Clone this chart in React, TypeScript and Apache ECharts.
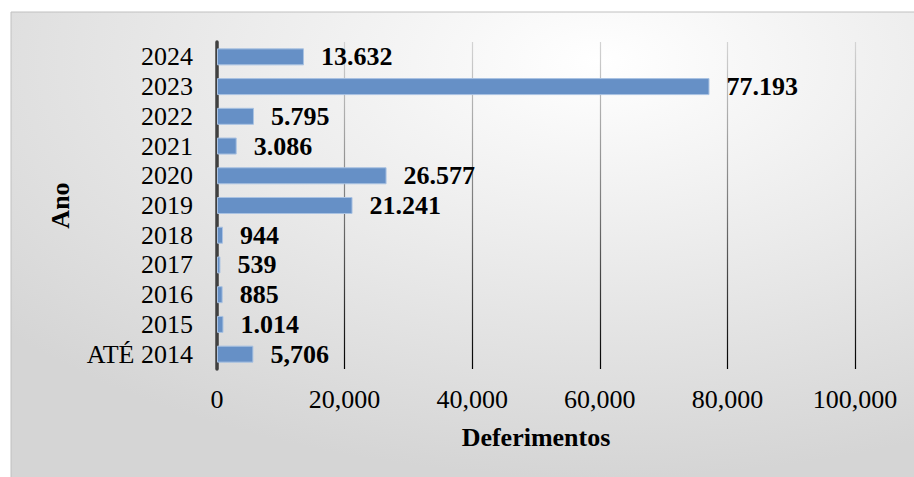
import React, { useEffect, useRef } from "react";
import * as echarts from "echarts";

const categories = ["ATÉ 2014", "2015", "2016", "2017", "2018", "2019", "2020", "2021", "2022", "2023", "2024"];
const values = [5706, 1014, 885, 539, 944, 21241, 26577, 3086, 5795, 77193, 13632];
const valueLabels = ["5,706", "1.014", "885", "539", "944", "21.241", "26.577", "3.086", "5.795", "77.193", "13.632"];
const xTicks = { min: 0, max: 100000, interval: 20000 };
const xAxisName = "Deferimentos";
const yAxisName = "Ano";

const FONT = "'Liberation Serif', 'Times New Roman', serif";

export default function App() {
  const ref = useRef<HTMLDivElement>(null);
  useEffect(() => {
    document.body.style.margin = "0";
    if (!ref.current) return;
    const chart = echarts.init(ref.current, undefined, { renderer: "svg" });
    const gridTop = 42;
    const gridBottomPx = 369;
    chart.setOption({
      animation: false,
      textStyle: { fontFamily: FONT },
      graphic: [
        {
          type: "rect",
          z: -10,
          silent: true,
          shape: { x: 11, y: 12, width: 920, height: 490 },
          style: {
            fill: new echarts.graphic.RadialGradient(0.64, 0.1, 0.85, [
              { offset: 0, color: "#ffffff" },
              { offset: 1, color: "#d5d5d5" },
            ]),
            stroke: "#c0c0c0",
            lineWidth: 1,
          },
        },
      ],
      grid: { left: 217, right: 59, top: gridTop, bottom: 477 - gridBottomPx, containLabel: false },
      xAxis: {
        type: "value",
        min: xTicks.min,
        max: xTicks.max,
        interval: xTicks.interval,
        name: xAxisName,
        nameLocation: "middle",
        nameGap: 55,
        nameTextStyle: { fontFamily: FONT, fontSize: 26, fontWeight: "bold", color: "#000" },
        axisLine: { show: false },
        axisTick: { show: false },
        axisLabel: {
          fontFamily: FONT,
          fontSize: 26,
          color: "#000",
          margin: 17,
          formatter: (v: number) => v.toLocaleString("en-US"),
        },
        splitLine: {
          show: true,
          lineStyle: {
            width: 1.2,
            color: new echarts.graphic.LinearGradient(
              0, gridTop, 0, gridBottomPx,
              [
                { offset: 0, color: "#d4d4d4" },
                { offset: 0.5, color: "#7a7a7a" },
                { offset: 1, color: "#000000" },
              ],
              true
            ),
          },
        },
      },
      yAxis: {
        type: "category",
        data: categories,
        name: yAxisName,
        nameLocation: "middle",
        nameRotate: 90,
        nameGap: 144,
        nameTextStyle: { fontFamily: FONT, fontSize: 26, fontWeight: "bold", color: "#000" },
        axisLine: { show: true, lineStyle: { color: "#404040", width: 3.5 } },
        axisTick: { show: false },
        axisLabel: { fontFamily: FONT, fontSize: 26, color: "#000", margin: 24, interval: 0 },
        splitLine: { show: false },
      },
      series: [
        {
          type: "bar",
          data: values,
          barWidth: 17,
          itemStyle: { color: "#6690C6", borderColor: "#A9C2E2", borderWidth: 1 },
          label: {
            show: true,
            position: "right",
            distance: 17,
            fontFamily: FONT,
            fontSize: 26,
            fontWeight: "bold",
            color: "#000",
            formatter: (p: any) => valueLabels[p.dataIndex],
          },
        },
      ],
    });
    return () => chart.dispose();
  }, []);
  return <div ref={ref} style={{ width: 914, height: 477 }} />;
}
